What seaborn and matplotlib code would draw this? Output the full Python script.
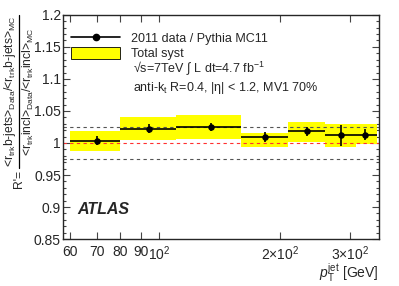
import matplotlib
matplotlib.use("Agg")
import matplotlib.pyplot as plt
import numpy as np
import seaborn as sns
from matplotlib.lines import Line2D
from matplotlib.patches import Patch
from matplotlib.ticker import MultipleLocator, FuncFormatter, FixedLocator, NullLocator

sns.set_style("ticks")
plt.rcParams["font.family"] = ["Liberation Sans", "DejaVu Sans"]
plt.rcParams["mathtext.fontset"] = "custom"
plt.rcParams["mathtext.rm"] = "Liberation Sans"
plt.rcParams["mathtext.it"] = "Liberation Sans:italic"
plt.rcParams["mathtext.bf"] = "Liberation Sans:bold"

# pT bins (GeV) and measured ratio
bin_edges = [60, 80, 110, 160, 210, 260, 310, 350]
pt_centers = [70, 94, 135, 184, 234, 284, 326]
ratio = [1.0035, 1.0226, 1.025, 1.0088, 1.0185, 1.012, 1.013]
stat_err = [0.007, 0.0067, 0.0067, 0.0077, 0.007, 0.016, 0.009]
syst_low = [0.988, 1.0046, 1.007, 0.993, 1.002, 0.994, 0.998]
syst_high = [1.019, 1.0405, 1.043, 1.015, 1.033, 1.029, 1.029]
ref_lines = [0.975, 1.025]

x_ticks = [60, 70, 80, 90, 100, 200, 300]
x_ticklabels = ["60", "70", "80", "90", r"$10^2$", r"$2{\times}10^2$", r"$3{\times}10^2$"]

edges = np.array(bin_edges)
lo = np.array(syst_low)
hi = np.array(syst_high)
centers = np.array(pt_centers)

W, H = 399, 286
fig, ax = plt.subplots(figsize=(W / 100, H / 100), dpi=100)
fig.subplots_adjust(left=0.158, right=0.95, top=0.948, bottom=0.164)

ax.bar(edges[:-1], hi - lo, width=np.diff(edges), bottom=lo, align="edge",
       color="#ffff00", linewidth=0, zorder=1)
ax.axhline(1.0, color="#ff3030", lw=0.8, ls=(0, (3, 3)), zorder=2)
for yv in ref_lines:
    ax.axhline(yv, color="#555555", lw=0.8, ls=(0, (3, 3)), zorder=2)

xerr = np.vstack([centers - edges[:-1], edges[1:] - centers])
ax.errorbar(centers, ratio, xerr=xerr, yerr=stat_err, fmt="none",
            ecolor="black", elinewidth=1.2, capsize=0, zorder=3)
sns.scatterplot(x=centers, y=ratio, color="black", s=22, edgecolor="black",
                linewidth=0, zorder=4, ax=ax)

ax.set_xscale("log")
ax.set_xlim(57.5, 354)
ax.set_ylim(0.85, 1.2)
ax.xaxis.set_major_locator(FixedLocator(x_ticks))
ax.xaxis.set_minor_locator(NullLocator())
ax.set_xticklabels(x_ticklabels)
ax.yaxis.set_major_locator(MultipleLocator(0.05))
ax.yaxis.set_minor_locator(MultipleLocator(0.01))
ax.yaxis.set_major_formatter(FuncFormatter(lambda v, p: f"{v:g}"))
ax.tick_params(which="both", direction="in", top=True, right=True,
               labelsize=10, width=0.8, color="#444444")
ax.tick_params(which="major", length=5)
ax.tick_params(which="minor", length=2.5)
ax.tick_params(axis="x", pad=4)
ax.tick_params(axis="y", pad=1.5)
for s in ax.spines.values():
    s.set_linewidth(1.0)

ax.set_xlabel(r"$p_{\mathrm{T}}^{\mathrm{jet}}$ [GeV]", loc="right", fontsize=10)
ax.xaxis.set_label_coords(1.0, -0.1)

# y label built as a rotated fraction (ROOT style)
frac_top, frac_bot = 1 - 15 / H, 1 - 168 / H
frac_mid = (frac_top + frac_bot) / 2
num = (r"<r$_{\mathrm{trk}}$b-jets>$_{\mathrm{Data}}$/"
       r"<r$_{\mathrm{trk}}$b-jets>$_{\mathrm{MC}}$")
den = (r"<r$_{\mathrm{trk}}$incl>$_{\mathrm{Data}}$/"
       r"<r$_{\mathrm{trk}}$incl>$_{\mathrm{MC}}$")
fig.text(10 / W, frac_mid, num, rotation=90, ha="center", va="center", fontsize=8.7)
fig.text(28 / W, frac_mid, den, rotation=90, ha="center", va="center", fontsize=8.7)
fig.add_artist(Line2D([19 / W, 19 / W], [frac_bot, frac_top], color="black",
                      lw=0.9, transform=fig.transFigure))
fig.text(19 / W, 1 - 170 / H, "R'=", rotation=90, ha="center", va="top", fontsize=8.7)

handles = [
    Line2D([], [], color="black", lw=1.2, marker="o", ms=4.5),
    Patch(facecolor="#ffff00", edgecolor="black", linewidth=0.6),
]
ax.legend(handles, ["2011 data / Pythia MC11", "Total syst"], loc="upper left",
          bbox_to_anchor=(0.01, 0.945), frameon=False, fontsize=9,
          handlelength=3.9, handleheight=1.1, handletextpad=0.85,
          labelspacing=0.12, borderaxespad=0)
ax.text(0.2215, 0.762, r"√s=7TeV ∫ L dt=4.7 fb$^{-1}$", transform=ax.transAxes,
        fontsize=9, va="center")
ax.text(0.2215, 0.676, r"anti-k$_{\mathrm{t}}$ R=0.4, |η| < 1.2, MV1 70%",
        transform=ax.transAxes, fontsize=9, va="center")
ax.text(0.044, 0.134, "ATLAS", transform=ax.transAxes, fontsize=11.5,
        fontweight="bold", fontstyle="italic", va="center")

fig.savefig("out.png", dpi=100)
